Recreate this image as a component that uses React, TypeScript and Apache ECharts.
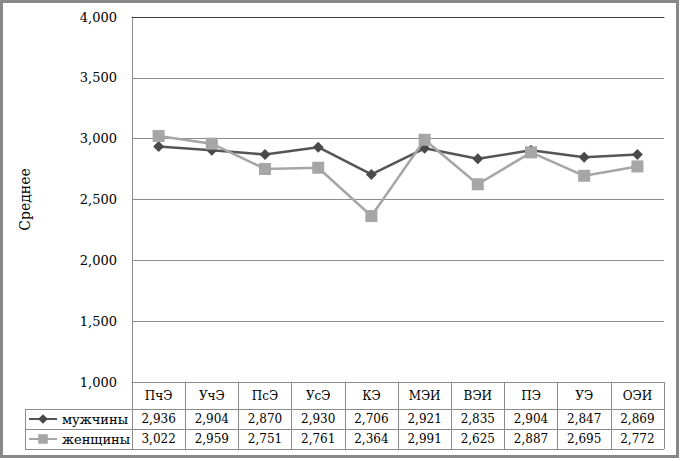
import React, { useEffect, useRef } from "react";
import * as echarts from "echarts";

const categories = ["ПчЭ", "УчЭ", "ПсЭ", "УсЭ", "КЭ", "МЭИ", "ВЭИ", "ПЭ", "УЭ", "ОЭИ"];
const menValues = [2.936, 2.904, 2.87, 2.93, 2.706, 2.921, 2.835, 2.904, 2.847, 2.869];
const womenValues = [3.022, 2.959, 2.751, 2.761, 2.364, 2.991, 2.625, 2.887, 2.695, 2.772];
const seriesNames = ["мужчины", "женщины"];
const yMin = 1;
const yMax = 4;
const yInterval = 0.5;
const yTitle = "Среднее";

const FONT = '"DejaVu Serif"';
const W = 680;
const H = 461;
const GRID_LEFT = 132;
const GRID_RIGHT = 664;
const GRID_TOP = 17;
const GRID_BOTTOM = 382;
const HEADER_H = 27;
const ROW_H = 20;
const TABLE_LEFT = 25;
const GRID_COLOR = "#8c8c8c";

const fmt = (v: number) => v.toFixed(3).replace(".", ",");

export default function App() {
  const ref = useRef<HTMLDivElement>(null);
  useEffect(() => {
    if (!ref.current) return;
    const chart = echarts.init(ref.current, null, { renderer: "svg" });
    const tableBottom = GRID_BOTTOM + HEADER_H + 2 * ROW_H;
    const rowLines = [GRID_BOTTOM + HEADER_H, GRID_BOTTOM + HEADER_H + ROW_H, tableBottom];
    chart.setOption({
      animation: false,
      backgroundColor: "#ffffff",
      textStyle: { fontFamily: FONT },
      grid: {
        left: GRID_LEFT,
        right: W - GRID_RIGHT,
        top: GRID_TOP,
        bottom: H - GRID_BOTTOM,
        containLabel: false,
      },
      legend: {
        orient: "vertical",
        left: 28,
        top: GRID_BOTTOM + HEADER_H + 2,
        itemWidth: 28,
        itemHeight: 12,
        itemGap: 4,
        padding: 0,
        textStyle: { fontFamily: FONT, fontSize: 13, color: "#000", lineHeight: 16 },
        data: seriesNames,
      },
      xAxis: [
        {
          type: "category",
          data: categories,
          boundaryGap: true,
          position: "bottom",
          axisLine: { show: true, lineStyle: { color: GRID_COLOR, width: 1 } },
          axisTick: {
            show: true,
            interval: 0,
            length: HEADER_H + 2 * ROW_H,
            lineStyle: { color: GRID_COLOR, width: 1 },
          },
          axisLabel: {
            interval: 0,
            margin: 0,
            fontFamily: FONT,
            formatter: (value: string, index: number) =>
              `{c|${value}}\n{v|${fmt(menValues[index])}}\n{v|${fmt(womenValues[index])}}`,
            rich: {
              c: { fontFamily: FONT, fontSize: 12, color: "#000", lineHeight: HEADER_H },
              v: { fontFamily: FONT, fontSize: 12, color: "#000", lineHeight: ROW_H },
            },
          },
          splitLine: { show: false },
        },
        {
          type: "category",
          data: categories,
          position: "top",
          axisLine: { show: true, lineStyle: { color: "#3a3a3a", width: 1 } },
          axisTick: { show: false },
          axisLabel: { show: false },
          splitLine: { show: false },
        },
      ],
      yAxis: {
        type: "value",
        min: yMin,
        max: yMax,
        interval: yInterval,
        name: yTitle,
        nameLocation: "middle",
        nameGap: 100,
        nameTextStyle: { fontFamily: FONT, fontSize: 14, color: "#000" },
        axisLine: { show: true, lineStyle: { color: GRID_COLOR, width: 1 } },
        axisTick: { show: false },
        axisLabel: {
          margin: 15,
          fontFamily: FONT,
          fontSize: 13,
          color: "#000",
          formatter: (v: number) => fmt(v),
        },
        splitLine: { show: true, lineStyle: { color: GRID_COLOR, width: 1 } },
      },
      series: [
        {
          name: seriesNames[0],
          type: "line",
          data: menValues,
          symbol: "diamond",
          symbolSize: 11,
          lineStyle: { color: "#555555", width: 2.5 },
          itemStyle: { color: "#4a4a4a" },
          z: 3,
        },
        {
          name: seriesNames[1],
          type: "line",
          data: womenValues,
          symbol: "rect",
          symbolSize: 12,
          lineStyle: { color: "#a6a6a6", width: 2.5 },
          itemStyle: { color: "#a6a6a6" },
          z: 4,
        },
      ],
      graphic: [
        ...rowLines.map((y) => ({
          type: "line",
          shape: { x1: TABLE_LEFT, y1: y + 0.5, x2: GRID_RIGHT, y2: y + 0.5 },
          style: { stroke: GRID_COLOR, lineWidth: 1 },
          silent: true,
        })),
        {
          type: "line",
          shape: { x1: TABLE_LEFT + 0.5, y1: rowLines[0], x2: TABLE_LEFT + 0.5, y2: tableBottom },
          style: { stroke: GRID_COLOR, lineWidth: 1 },
          silent: true,
        },
        {
          type: "rect",
          shape: { x: 1.5, y: 1.5, width: W - 4, height: 455 },
          style: { fill: "none", stroke: "#888888", lineWidth: 3 },
          silent: true,
        },
      ],
    });
    return () => chart.dispose();
  }, []);
  return (
    <div
      ref={ref}
      style={{ position: "absolute", left: 0, top: 0, width: W, height: H, background: "#fff" }}
    />
  );
}
